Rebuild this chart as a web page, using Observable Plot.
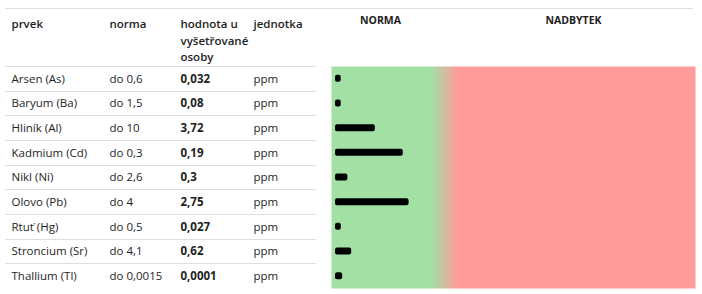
<!DOCTYPE html>
<html><head><meta charset="utf-8">
<script src="https://cdn.jsdelivr.net/npm/d3@7"></script>
<script src="https://cdn.jsdelivr.net/npm/@observablehq/plot@0.6"></script>
<style>
body{margin:0;background:#fff;}
#chart svg{display:block;background:#fff;}
</style>
</head><body><div id="chart"></div>
<script>
const elements = ["Arsen (As)","Baryum (Ba)","Hliník (Al)","Kadmium (Cd)","Nikl (Ni)","Olovo (Pb)","Rtuť (Hg)","Stroncium (Sr)","Thallium (Tl)"];
const normLabels = ["do 0,6","do 1,5","do 10","do 0,3","do 2,6","do 4","do 0,5","do 4,1","do 0,0015"];
const normValues = [0.6,1.5,10,0.3,2.6,4,0.5,4.1,0.0015];
const valueLabels = ["0,032","0,08","3,72","0,19","0,3","2,75","0,027","0,62","0,0001"];
const values = [0.032,0.08,3.72,0.19,0.3,2.75,0.027,0.62,0.0001];
const units = ["ppm","ppm","ppm","ppm","ppm","ppm","ppm","ppm","ppm"];
const headers = ["prvek","norma","hodnota u\nvyšetřované\nosoby","jednotka"];
const zoneLabels = ["NORMA","NADBYTEK"];

const rows = elements.map((name, i) => ({
  name, norm: normLabels[i], valueLabel: valueLabels[i], unit: units[i],
  ratio: values[i] / normValues[i]
}));

const W = 702, H = 294, mL = 331, mR = 7, mT = 66, mB = 6;
const font = "'Open Sans', sans-serif";
const ink = "#1e1e1e";
const colX = [11, 109, 180, 253]; // column left edges (px)

const defs = () => {
  const d = d3.create("svg:defs");
  const g = d.append("linearGradient").attr("id", "zone").attr("x1", 0).attr("x2", 1).attr("y1", 0).attr("y2", 0);
  g.append("stop").attr("offset", "27.5%").attr("stop-color", "#a2e0a4");
  g.append("stop").attr("offset", "34.5%").attr("stop-color", "#ff9c9c");
  return d.node();
};

const lines = (index, scales, values, dims) => {
  const g = d3.create("svg:g").attr("stroke", "#dedede").attr("stroke-width", 1);
  g.append("line").attr("x1", 5).attr("x2", 693).attr("y1", 8.5).attr("y2", 8.5);
  for (const name of elements) {
    const y = Math.round(scales.y(name)) + 0.5;
    g.append("line").attr("x1", 5).attr("x2", 316).attr("y1", y).attr("y2", y);
  }
  return g.node();
};

const cols = [
  {key: "name", weight: "normal"},
  {key: "norm", weight: "normal"},
  {key: "valueLabel", weight: "bold"},
  {key: "unit", weight: "normal"}
];

const chart = Plot.plot({
  width: W, height: H,
  marginLeft: mL, marginRight: mR, marginTop: mT, marginBottom: mB,
  style: {fontFamily: font, background: "#fff", color: ink},
  x: {domain: [0, 3.364], insetLeft: 4, axis: null},
  y: {type: "band", domain: elements, padding: 0, round: false, axis: null},
  marks: [
    defs,
    Plot.frame({fill: "url(#zone)", stroke: "none"}),
    lines,
    Plot.barX(rows, {x: "ratio", y: "name", fill: "#000", rx: 2, insetTop: 8.8, insetBottom: 8.8}),
    ...cols.map((c, i) => Plot.text(rows, {
      y: "name", text: c.key, frameAnchor: "left", textAnchor: "start",
      dx: colX[i] - mL, fontSize: 11.5, fontWeight: c.weight, fill: ink
    })),
    ...headers.map((h, i) => Plot.text([h], {
      text: d => d, frameAnchor: "top-left", textAnchor: "start", lineAnchor: "top",
      dx: colX[i] - mL, dy: 16 - mT, fontSize: 11.5, lineHeight: 1.43, fontWeight: 600, fill: ink
    })),
    Plot.text([zoneLabels[0]], {text: d => d, frameAnchor: "top-left", textAnchor: "middle", lineAnchor: "top",
      dx: 380 - mL, dy: 16 - mT, fontSize: 10.5, fontWeight: "bold", fill: ink}),
    Plot.text([zoneLabels[1]], {text: d => d, frameAnchor: "top-left", textAnchor: "middle", lineAnchor: "top",
      dx: 573 - mL, dy: 16 - mT, fontSize: 10.5, fontWeight: "bold", fill: ink})
  ]
});
document.getElementById("chart").appendChild(chart);
</script>
</body></html>
